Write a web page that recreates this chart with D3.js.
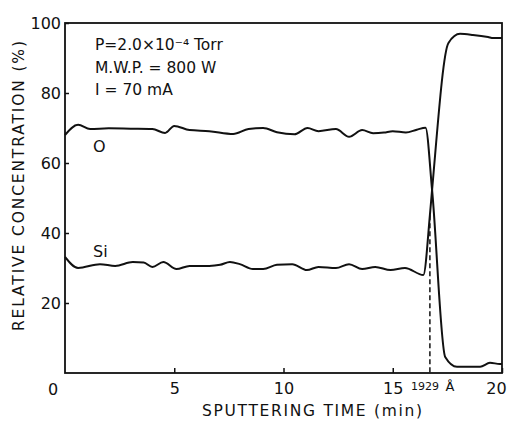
<!DOCTYPE html>
<html><head><meta charset="utf-8">
<script src="https://cdn.jsdelivr.net/npm/d3@7"></script>
<style>body{margin:0;background:#fff}svg{display:block}text{font-family:"DejaVu Sans",sans-serif;fill:#111}</style>
</head><body><svg id="c" width="509" height="421"></svg>
<script>
const oTime = [0,0.6,1.15,2.0,3.0,4.0,4.58,5.0,5.7,6.6,7.7,8.4,9.07,9.7,10.5,11.1,11.6,12.4,13.0,13.6,14.1,14.6,15.0,15.6,16.1,16.5,16.8,17.4,17.94,19.0,19.45,19.9,20];
const oValue = [68,70.9,69.7,69.9,69.8,69.7,68.6,70.6,69.4,69.1,68.3,69.7,70,68.8,68.2,70,69.1,69.7,67.5,69.4,68.5,68.7,69.1,68.7,69.5,70.1,52.3,4.6,1.8,1.8,2.9,2.6,2.6];
const siTime = [0,0.6,1.6,2.3,3.1,3.6,4.0,4.5,5.1,5.7,6.6,7.1,7.55,8.0,8.6,9.07,9.7,10.4,11.07,11.6,12.4,13.0,13.6,14.2,14.9,15.56,16.4,16.7,16.8,17.55,18.08,18.67,19.36,19.6,20];
const siValue = [33.2,30,31.1,30.6,31.7,31.6,30.3,31.7,29.7,30.6,30.6,30.9,31.7,31.1,29.7,29.7,30.9,31.1,29.4,30.3,30,31.1,29.7,30.3,29.4,30,28,45.1,52.3,94.3,96.9,96.6,96,95.7,95.7];
const xTicks = [5,10,15,20];
const yTicks = [20,40,60,80,100];
const interfaceTime = 16.7, interfaceValue = 45.1;
const notes = ["P=2.0\u00d710\u207b\u2074 Torr","M.W.P. = 800 W","I = 70 mA"];

const svg = d3.select("#c");
const x = d3.scaleLinear().domain([0,20]).range([65,502]);
const y = d3.scaleLinear().domain([0,100]).range([373,23]);
const g = svg.append("g");

// frame
g.append("rect").attr("x",x(0)).attr("y",y(100)).attr("width",x(20)-x(0)).attr("height",y(0)-y(100))
 .attr("fill","none").attr("stroke","#111").attr("stroke-width",1.8);

// x ticks (inward)
const xa = d3.axisBottom(x).tickValues(xTicks).tickSizeInner(-5).tickSizeOuter(0).tickFormat(d3.format("d")).tickPadding(10);
const gx = g.append("g").attr("transform",`translate(0,${y(0)})`).call(xa);
gx.select(".domain").remove();
gx.selectAll("line").attr("stroke","#111").attr("stroke-width",1.5);
gx.selectAll("text").attr("font-size",16).attr("fill","#111");
gx.selectAll(".tick").filter(d=>d===20).select("text").attr("dx",-6);
g.append("text").attr("x",53).attr("y",y(0)+22).attr("text-anchor","middle").attr("font-size",16).text("0");

const ya = d3.axisLeft(y).tickValues(yTicks).tickSizeInner(-4).tickSizeOuter(0).tickFormat(d3.format("d")).tickPadding(4);
const gy = g.append("g").attr("transform",`translate(${x(0)},0)`).call(ya);
gy.select(".domain").remove();
gy.selectAll("line").attr("stroke","#111").attr("stroke-width",1.5);
gy.selectAll("text").attr("font-size",16).attr("fill","#111");

// titles
g.append("text").attr("x",312).attr("y",416).attr("text-anchor","middle").attr("font-size",15.5)
 .attr("textLength",220).attr("lengthAdjust","spacing").text("SPUTTERING TIME (min)");
g.append("text").attr("transform","translate(24,186) rotate(-90)").attr("text-anchor","middle").attr("font-size",15.5)
 .attr("textLength",290).attr("lengthAdjust","spacing").text("RELATIVE CONCENTRATION (%)");

// notes
notes.forEach((t,i)=>{
  g.append("text").attr("x",95).attr("y",50+i*22.5).attr("font-size",15.5).text(t);
});

// lines
const line = d3.line().x(d=>x(d[0])).y(d=>y(d[1])).curve(d3.curveMonotoneX);
g.append("path").datum(oTime.map((t,i)=>[t,oValue[i]])).attr("d",line)
 .attr("fill","none").attr("stroke","#111").attr("stroke-width",2);
g.append("path").datum(siTime.map((t,i)=>[t,siValue[i]])).attr("d",line)
 .attr("fill","none").attr("stroke","#111").attr("stroke-width",2);

// series labels
g.append("text").attr("x",93).attr("y",152).attr("font-size",16).text("O");
g.append("text").attr("x",93).attr("y",257).attr("font-size",16).text("Si");

// interface dashed line
g.append("line").attr("x1",x(interfaceTime)).attr("x2",x(interfaceTime))
 .attr("y1",y(interfaceValue)).attr("y2",y(0)).attr("stroke","#111").attr("stroke-width",1.5).attr("stroke-dasharray","5,3");
g.append("text").attr("x",x(interfaceTime)-5).attr("y",y(0)+17).attr("text-anchor","middle").attr("font-size",11).text("1929");
g.append("text").attr("x",x(interfaceTime)+20).attr("y",y(0)+18).attr("text-anchor","middle").attr("font-size",13).text("\u00c5");
</script></body></html>
